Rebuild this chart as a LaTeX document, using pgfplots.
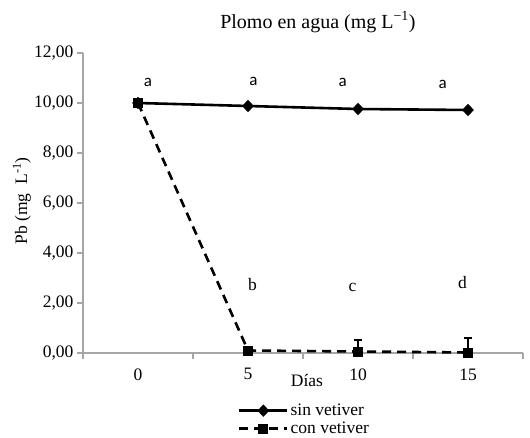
\documentclass[border=0pt]{standalone}
\usepackage{fontspec}
\setmainfont{Liberation Serif}
\newfontfamily\lettfont{Carlito}
\usepackage{pgfplots}
\pgfplotsset{compat=1.18}

\begin{document}
\begin{tikzpicture}
\begin{axis}[
  at={(83pt,84pt)}, anchor=south west,
  scale only axis,
  width=440pt, height=300pt,
  font=\fontsize{17.5}{20}\selectfont,
  axis lines*=left,
  axis line style={gray!70, line width=1.2pt},
  xmin=-0.5, xmax=3.5,
  ymin=0, ymax=12,
  xtick={0,1,2,3},
  xticklabels={0,5,10,15},
  minor xtick={-0.5,0.5,1.5,2.5,3.5},
  major x tick style={draw=none},
  minor tick length=6pt,
  major tick length=6pt,
  tick align=outside,
  tick style={gray!70, line width=1.2pt},
  ytick={0,2,...,12},
  yticklabel style={/pgf/number format/.cd, fixed, fixed zerofill, precision=2, use comma, assume math mode=true},
  xticklabel style={yshift=-6pt},
  legend style={at={(0.352,-0.163)}, anchor=north west, draw=none, fill=none,
    font=\fontsize{17.5}{19}\selectfont, row sep=1pt, inner sep=0pt},
  legend cell align=left,
  legend image code/.code={
    \draw[mark repeat=2,mark phase=2,#1] plot coordinates {(0pt,0pt) (24pt,0pt) (48pt,0pt)};},
  clip=false,
]
\addplot[black, line width=2.6pt, mark=diamond*, mark size=5.5pt, mark options={solid, xscale=1.25, line width=1pt}]
  coordinates {(0,10.0) (1,9.88) (2,9.76) (3,9.72)};
\addlegendentry{sin vetiver}
\addplot[black, line width=2.6pt, dash pattern=on 9pt off 6pt, mark=square*, mark size=4.5pt, mark options={solid, line width=1pt},
  error bars/.cd, y dir=plus, y explicit,
  error bar style={solid, line width=1.6pt},
  error mark options={rotate=90, mark size=4pt, line width=1.6pt}]
  coordinates {(0,10.0) +- (0,0) (1,0.1) +- (0,0) (2,0.06) +- (0,0.46) (3,0.02) +- (0,0.59)};
\addlegendentry{con vetiver}

\node[font=\lettfont\fontsize{17}{20}\selectfont] at (axis cs:0.09,10.84) {a};
\node[font=\lettfont\fontsize{17}{20}\selectfont] at (axis cs:1.05,10.88) {a};
\node[font=\lettfont\fontsize{17}{20}\selectfont] at (axis cs:1.86,10.84) {a};
\node[font=\lettfont\fontsize{17}{20}\selectfont] at (axis cs:2.77,10.76) {a};
\node at (axis cs:1.04,2.72) {b};
\node at (axis cs:1.95,2.64) {c};
\node at (axis cs:2.95,2.8) {d};

\node[font=\fontsize{20}{24}\selectfont] at (rel axis cs:0.534,1.103) {Plomo en agua (mg L\textsuperscript{−1})};
\node[rotate=90] at (rel axis cs:-0.139,0.507) {Pb (mg\ \ L\textsuperscript{-1})};
\node at (rel axis cs:0.509,-0.09) {Días};
\end{axis}
\useasboundingbox (0,0) rectangle (530pt,437pt);
\end{tikzpicture}
\end{document}
